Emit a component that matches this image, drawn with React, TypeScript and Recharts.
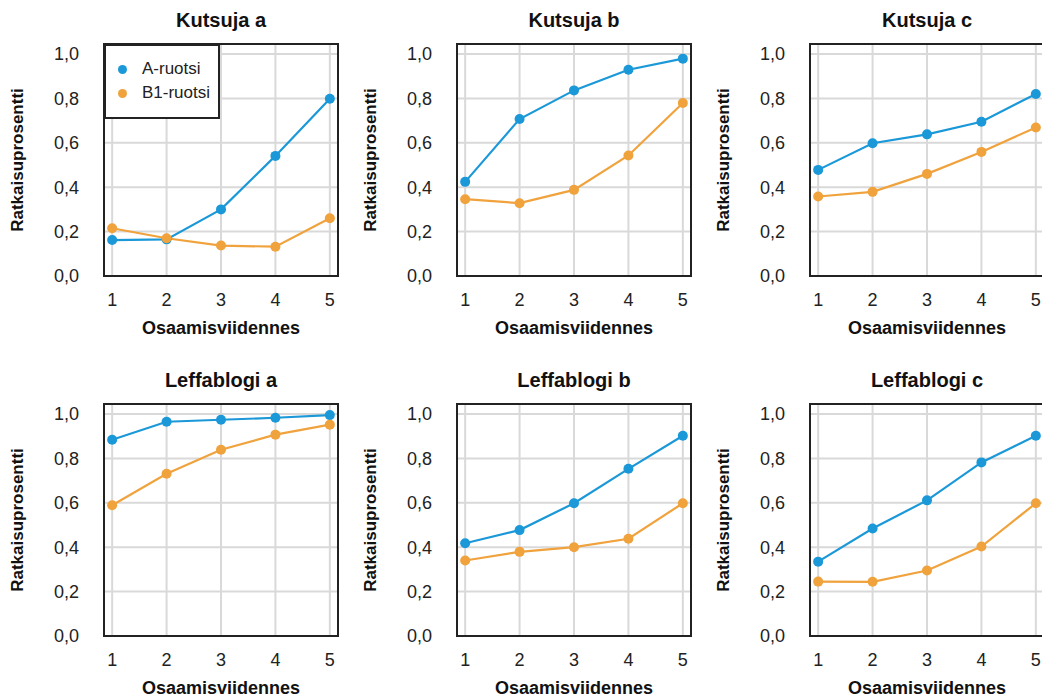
import { CartesianGrid, Legend, Line, LineChart, ReferenceArea, XAxis, YAxis } from "recharts"

// osaamisviidennes 1..5
const quintiles = [1, 2, 3, 4, 5]
const yTicks = [0, 0.2, 0.4, 0.6, 0.8, 1.0]

const kutsujaA_A = [0.162, 0.165, 0.3, 0.541, 0.798]
const kutsujaA_B1 = [0.215, 0.17, 0.137, 0.132, 0.26]
const kutsujaB_A = [0.424, 0.707, 0.836, 0.929, 0.979]
const kutsujaB_B1 = [0.346, 0.328, 0.388, 0.543, 0.779]
const kutsujaC_A = [0.478, 0.598, 0.638, 0.695, 0.82]
const kutsujaC_B1 = [0.358, 0.379, 0.46, 0.559, 0.669]
const leffaA_A = [0.884, 0.965, 0.974, 0.983, 0.995]
const leffaA_B1 = [0.589, 0.731, 0.839, 0.907, 0.952]
const leffaB_A = [0.418, 0.477, 0.598, 0.753, 0.902]
const leffaB_B1 = [0.34, 0.379, 0.4, 0.438, 0.598]
const leffaC_A = [0.335, 0.484, 0.611, 0.782, 0.902]
const leffaC_B1 = [0.245, 0.244, 0.295, 0.403, 0.598]

const seriesNames = ["A-ruotsi", "B1-ruotsi"]

const panels = [
  { title: "Kutsuja a", a: kutsujaA_A, b: kutsujaA_B1 },
  { title: "Kutsuja b", a: kutsujaB_A, b: kutsujaB_B1 },
  { title: "Kutsuja c", a: kutsujaC_A, b: kutsujaC_B1 },
  { title: "Leffablogi a", a: leffaA_A, b: leffaA_B1 },
  { title: "Leffablogi b", a: leffaB_A, b: leffaB_B1 },
  { title: "Leffablogi c", a: leffaC_A, b: leffaC_B1 },
]

const FONT = '"Liberation Sans", Arial, sans-serif'
const BLUE = "#1b98d8"
const ORANGE = "#f0a23c"
const X_DOMAIN: [number, number] = [0.85, 5.15]
const Y_DOMAIN: [number, number] = [0, 1.045]
const PANEL_W = 353
const PANEL_H = 360

const fmt = (v: number) => v.toFixed(1).replace(".", ",")

function LegendBox({ payload }: any) {
  return (
    <div
      style={{
        position: "relative",
        width: 112,
        height: 71,
        border: "2px solid #222",
        background: "#fff",
        fontFamily: FONT,
        fontSize: 17,
        color: "#222",
      }}
    >
      {(payload || []).map((entry: any, i: number) => (
        <div
          key={entry.value}
          style={{ position: "absolute", left: 0, top: 13 + i * 24, height: 20, display: "flex", alignItems: "center" }}
        >
          <span
            style={{
              display: "inline-block",
              width: 9,
              height: 9,
              borderRadius: "50%",
              background: entry.color,
              marginLeft: 11.5,
              marginRight: 15.5,
            }}
          />
          <span>{entry.value}</span>
        </div>
      ))}
    </div>
  )
}

function Panel({ title, a, b, showLegend }: { title: string; a: number[]; b: number[]; showLegend: boolean }) {
  const data = quintiles.map((x, i) => ({ x, a: a[i], b: b[i] }))
  const tickStyle = { fill: "#222", fontSize: 18, fontFamily: FONT }
  const labelStyle = { fill: "#111", fontSize: 17, fontWeight: 700, fontFamily: FONT, textAnchor: "middle" as const }

  return (
    <LineChart width={PANEL_W} height={PANEL_H} data={data} margin={{ top: 44, right: 15, bottom: 0, left: 0 }}>
      <text x={221} y={27} textAnchor="middle" fill="#111" style={{ fontSize: 20, fontWeight: 700, fontFamily: FONT }}>
        {title}
      </text>
      <CartesianGrid stroke="#d9d9d9" strokeWidth={2} />
      <XAxis
        type="number"
        dataKey="x"
        domain={X_DOMAIN}
        ticks={quintiles}
        interval={0}
        height={84}
        axisLine={false}
        tickLine={false}
        tickSize={0}
        tickMargin={17}
        tick={tickStyle}
        allowDataOverflow
        label={{ value: "Osaamisviidennes", position: "insideBottom", offset: 26, style: { ...labelStyle, fontSize: 18 } }}
      />
      <YAxis
        type="number"
        domain={Y_DOMAIN}
        ticks={yTicks}
        tickFormatter={fmt}
        width={104}
        axisLine={false}
        tickLine={false}
        tickSize={0}
        tickMargin={25}
        tick={tickStyle}
        allowDataOverflow
        label={{ value: "Ratkaisuprosentti", angle: -90, position: "insideLeft", offset: 17, style: labelStyle }}
      />
      <ReferenceArea
        x1={X_DOMAIN[0]}
        x2={X_DOMAIN[1]}
        y1={Y_DOMAIN[0]}
        y2={Y_DOMAIN[1]}
        fill="none"
        fillOpacity={0}
        stroke="#222"
        strokeWidth={2}
        ifOverflow="visible"
      />
      <Line
        type="linear"
        dataKey="a"
        name={seriesNames[0]}
        stroke={BLUE}
        strokeWidth={2.2}
        dot={{ r: 5, fill: BLUE, stroke: BLUE, strokeWidth: 0 }}
        activeDot={false}
        isAnimationActive={false}
      />
      <Line
        type="linear"
        dataKey="b"
        name={seriesNames[1]}
        stroke={ORANGE}
        strokeWidth={2.2}
        dot={{ r: 5, fill: ORANGE, stroke: ORANGE, strokeWidth: 0 }}
        activeDot={false}
        isAnimationActive={false}
      />
      {showLegend && (
        <Legend
          layout="horizontal"
          verticalAlign="middle"
          align="center"
          content={LegendBox}
          wrapperStyle={{ left: 104, top: 44, width: "auto", height: "auto" }}
        />
      )}
    </LineChart>
  )
}

export default function App() {
  return (
    <div
      style={{
        position: "fixed",
        left: 0,
        top: 0,
        width: 1042,
        height: 700,
        overflow: "hidden",
        background: "#fff",
        fontFamily: FONT,
      }}
    >
      {panels.map((p, i) => (
        <div
          key={p.title}
          style={{ position: "absolute", left: (i % 3) * PANEL_W, top: Math.floor(i / 3) * PANEL_H }}
        >
          <Panel title={p.title} a={p.a} b={p.b} showLegend={i === 0} />
        </div>
      ))}
    </div>
  )
}
